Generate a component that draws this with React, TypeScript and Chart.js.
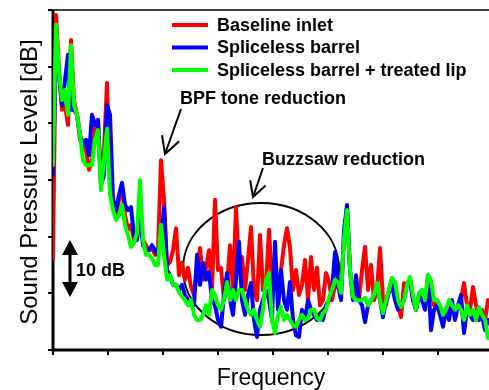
import { useEffect, useRef } from "react";
import { Chart, registerables } from "chart.js";

Chart.register(...registerables);

// Frequency bins (uniform spectral bins, arbitrary units)
const FREQ_BINS: number[] = Array.from({ length: 146 }, (_, i) => i);
const X_MAX = 145.33;
const X_TICKS = [0, 18.33, 36.67, 55, 73.33, 91.67, 110, 128.33];
const Y_TICKS = [0, 10, 20, 30, 40, 50, 60];

const SERIES_LABELS = ["Baseline inlet", "Spliceless barrel", "Spliceless barrel + treated lip"];
const SERIES_COLORS = ["#ff0000", "#0000ff", "#00ff00"];

// Relative SPL [dB]
const BASELINE = [
  16.2, 59.1, 49.4, 42.4, 43.2, 39.7, 54.7, 44.1, 41.5, 37.1,
  36.2, 35.3, 31.8, 33.5, 39.7, 40.6, 29.1, 35.3, 47.1, 30.0,
  25.6, 23.8, 26.5, 28.8, 23.8, 21.2, 22.1, 19.4, 20.3, 22.9,
  19.4, 18.5, 17.6, 18.0, 16.8, 17.6, 33.5, 26.5, 15.0, 15.5,
  17.6, 21.5, 13.2, 15.4, 12.4, 14.5, 11.1, 9.7, 14.1, 18.0,
  12.4, 14.5, 17.6, 10.6, 26.5, 14.1, 14.5, 8.8, 11.5, 18.5,
  10.6, 25.2, 14.1, 16.4, 10.6, 15.9, 21.7, 10.6, 8.8, 20.3,
  10.6, 11.5, 21.2, 11.5, 14.1, 10.6, 14.1, 18.5, 21.5, 18.0,
  10.6, 14.1, 9.7, 11.5, 15.9, 8.8, 16.4, 10.6, 14.5, 7.9,
  8.8, 13.6, 12.0, 8.8, 11.5, 12.4, 10.6, 19.4, 25.1, 14.1,
  9.4, 10.6, 8.8, 14.1, 18.2, 10.6, 15.0, 8.8, 10.6, 18.0,
  8.8, 7.9, 10.6, 12.7, 11.5, 7.9, 5.8, 11.8, 11.5, 12.4,
  8.8, 7.1, 9.7, 10.6, 8.8, 12.4, 10.6, 7.9, 8.8, 7.1,
  5.3, 6.2, 7.9, 7.1, 6.2, 7.9, 8.8, 11.8, 7.9, 7.1,
  11.1, 7.9, 5.8, 7.1, 5.3, 8.8,
];

const SPLICELESS = [
  30.9, 55.6, 48.5, 43.2, 47.6, 52.1, 42.4, 42.4, 41.5, 38.0,
  36.2, 37.1, 34.4, 41.5, 39.7, 40.6, 29.1, 30.9, 43.2, 41.5,
  26.5, 24.7, 27.4, 29.5, 25.6, 24.7, 25.2, 20.3, 19.4, 23.8,
  18.5, 17.6, 17.6, 18.5, 17.6, 16.8, 19.4, 25.2, 14.1, 13.2,
  11.5, 11.5, 10.6, 11.5, 9.7, 8.8, 7.9, 7.9, 16.8, 11.5,
  15.4, 12.4, 13.8, 8.8, 7.9, 5.3, 4.1, 9.7, 13.6, 8.8,
  6.2, 12.4, 19.1, 8.8, 6.2, 9.7, 11.8, 5.3, 2.3, 7.1,
  8.8, 10.6, 8.8, 5.3, 19.1, 7.1, 14.1, 8.8, 7.1, 12.0,
  5.3, 2.6, 2.3, 7.1, 5.3, 8.8, 7.1, 6.2, 5.3, 6.2,
  5.3, 7.9, 8.8, 10.6, 17.3, 11.5, 8.8, 21.2, 25.6, 14.1,
  8.8, 13.2, 8.8, 7.9, 4.9, 7.9, 8.8, 9.7, 11.5, 8.8,
  5.8, 8.8, 10.2, 11.5, 8.8, 7.1, 7.9, 8.8, 11.5, 12.4,
  8.8, 7.1, 9.7, 8.8, 7.1, 13.2, 3.5, 7.1, 7.9, 6.2,
  4.1, 7.1, 5.3, 8.8, 5.3, 7.9, 9.7, 3.0, 7.1, 6.2,
  5.3, 6.2, 5.3, 6.2, 3.5, 5.3,
];

const TREATED_LIP = [
  32.6, 57.4, 49.1, 44.1, 45.9, 41.5, 53.8, 43.2, 41.5, 38.0,
  33.5, 32.6, 32.6, 32.6, 37.1, 38.8, 28.2, 33.5, 39.1, 27.4,
  24.7, 22.9, 23.8, 25.6, 22.1, 20.3, 18.2, 18.9, 20.6, 30.0,
  19.4, 16.8, 16.8, 16.2, 15.0, 15.0, 22.1, 16.8, 12.4, 13.2,
  11.5, 11.5, 10.2, 9.4, 8.8, 7.9, 8.8, 6.2, 5.3, 5.3,
  6.2, 7.9, 6.2, 10.6, 9.7, 7.9, 7.1, 8.8, 12.0, 8.8,
  10.6, 8.8, 10.6, 10.6, 8.8, 7.1, 6.2, 7.1, 5.3, 4.1,
  7.1, 12.4, 13.6, 5.3, 3.0, 6.2, 7.6, 5.3, 6.2, 5.3,
  4.4, 4.1, 5.3, 6.2, 5.3, 5.6, 7.1, 7.1, 5.6, 5.3,
  6.5, 7.1, 9.2, 10.6, 12.4, 12.0, 10.1, 19.4, 24.7, 14.1,
  9.4, 8.8, 8.8, 8.8, 9.2, 7.9, 8.8, 9.7, 11.8, 8.8,
  6.5, 8.8, 10.6, 12.7, 12.0, 8.8, 7.6, 8.8, 11.5, 12.9,
  9.7, 7.1, 10.1, 10.6, 8.8, 13.2, 12.4, 8.8, 8.8, 7.9,
  6.2, 7.1, 8.8, 7.9, 7.1, 7.9, 7.1, 5.3, 7.9, 6.2,
  7.1, 5.3, 7.6, 6.2, 5.3, 2.1,
];

const FONT = "'Liberation Sans', Arial, sans-serif";

function arrowV(ctx: CanvasRenderingContext2D, x0: number, y0: number, x1: number, y1: number, len: number) {
  ctx.beginPath();
  ctx.moveTo(x0, y0);
  ctx.lineTo(x1, y1);
  ctx.stroke();
  const ang = Math.atan2(y1 - y0, x1 - x0);
  const spread = 0.5;
  ctx.beginPath();
  ctx.moveTo(x1 - len * Math.cos(ang - spread), y1 - len * Math.sin(ang - spread));
  ctx.lineTo(x1, y1);
  ctx.lineTo(x1 - len * Math.cos(ang + spread), y1 - len * Math.sin(ang + spread));
  ctx.stroke();
}

const decorPlugin = {
  id: "decor",
  beforeDatasetsDraw(chart: any) {
    const { ctx, chartArea: a, scales } = chart;
    const xs = scales.x;
    const ys = scales.y;
    ctx.save();
    // ellipse
    ctx.strokeStyle = "#000";
    ctx.lineWidth = 2;
    ctx.beginPath();
    ctx.ellipse(261, 269, 78, 66, 0, 0, Math.PI * 2);
    ctx.stroke();
    // top border
    ctx.lineWidth = 1.5;
    ctx.beginPath();
    ctx.moveTo(a.left, a.top);
    ctx.lineTo(a.right, a.top);
    ctx.stroke();
    // axes
    ctx.lineWidth = 3;
    ctx.beginPath();
    ctx.moveTo(a.left, a.top);
    ctx.lineTo(a.left, a.bottom + 1.5);
    ctx.moveTo(a.left - 1.5, a.bottom);
    ctx.lineTo(a.right, a.bottom);
    ctx.stroke();
    // ticks
    ctx.lineWidth = 2;
    ctx.beginPath();
    for (const v of Y_TICKS) {
      const py = Math.round(ys.getPixelForValue(v));
      ctx.moveTo(a.left - 5, py);
      ctx.lineTo(a.left, py);
    }
    for (const v of X_TICKS) {
      const px = Math.round(xs.getPixelForValue(v));
      ctx.moveTo(px, a.bottom);
      ctx.lineTo(px, a.bottom + 5);
    }
    ctx.stroke();
    ctx.restore();
  },
  afterDraw(chart: any) {
    const { ctx, chartArea: a } = chart;
    ctx.save();
    ctx.fillStyle = "#000";
    ctx.strokeStyle = "#000";
    // axis titles
    ctx.font = `23px ${FONT}`;
    ctx.textAlign = "center";
    ctx.textBaseline = "alphabetic";
    ctx.fillText("Frequency", (a.left + a.right) / 2, 385);
    ctx.save();
    ctx.translate(37, (a.top + a.bottom) / 2 + 2);
    ctx.rotate(-Math.PI / 2);
    ctx.font = `24px ${FONT}`;
    ctx.fillText("Sound Pressure Level [dB]", 0, 0);
    ctx.restore();

    // legend
    ctx.font = `bold 18px ${FONT}`;
    ctx.textAlign = "left";
    ctx.textBaseline = "middle";
    const rows = [25, 47.5, 70];
    SERIES_LABELS.forEach((lab, i) => {
      ctx.strokeStyle = SERIES_COLORS[i];
      ctx.lineWidth = 4;
      ctx.beginPath();
      ctx.moveTo(172, rows[i]);
      ctx.lineTo(208, rows[i]);
      ctx.stroke();
      ctx.fillText(lab, 217, rows[i] + 1);
    });

    // annotations
    ctx.fillText("BPF tone reduction", 180, 99);
    ctx.fillText("Buzzsaw reduction", 262, 160);
    ctx.fillText("10 dB", 76, 271);

    ctx.strokeStyle = "#000";
    ctx.lineWidth = 2;
    arrowV(ctx, 181, 109, 165, 154, 19);
    arrowV(ctx, 263, 168, 253, 197, 17);

    // 10 dB double arrow
    ctx.lineWidth = 3;
    ctx.beginPath();
    ctx.moveTo(70, 252);
    ctx.lineTo(70, 286);
    ctx.stroke();
    ctx.beginPath();
    ctx.moveTo(70, 240);
    ctx.lineTo(78, 255);
    ctx.lineTo(62, 255);
    ctx.closePath();
    ctx.fill();
    ctx.beginPath();
    ctx.moveTo(70, 297);
    ctx.lineTo(78, 282);
    ctx.lineTo(62, 282);
    ctx.closePath();
    ctx.fill();
    ctx.restore();
  },
};

export default function App() {
  const ref = useRef<HTMLCanvasElement | null>(null);
  useEffect(() => {
    if (!ref.current) return;
    const series = [BASELINE, SPLICELESS, TREATED_LIP];
    const chart = new Chart(ref.current, {
      type: "line",
      data: {
        labels: FREQ_BINS,
        datasets: series.map((d, i) => ({
          label: SERIES_LABELS[i],
          data: d,
          borderColor: SERIES_COLORS[i],
          backgroundColor: SERIES_COLORS[i],
          borderWidth: 4,
          pointRadius: 0,
          tension: 0,
          borderJoinStyle: "round" as const,
          borderCapStyle: "round" as const,
          fill: false,
          order: 2 - i,
        })),
      },
      options: {
        responsive: false,
        animation: false,
        devicePixelRatio: 1,
        layout: { padding: { top: 10, left: 0, right: 0, bottom: 0 } },
        plugins: { legend: { display: false }, tooltip: { enabled: false } },
        scales: {
          x: {
            type: "linear",
            min: 0,
            max: X_MAX,
            grid: { display: false },
            border: { display: false },
            ticks: { display: false },
            afterFit: (s: any) => {
              s.height = 40;
            },
          },
          y: {
            min: 0,
            max: 60,
            grid: { display: false },
            border: { display: false },
            ticks: { display: false },
            afterFit: (s: any) => {
              s.width = 53;
            },
          },
        },
      },
      plugins: [decorPlugin],
    });
    return () => chart.destroy();
  }, []);
  return (
    <div style={{ position: "absolute", left: 0, top: 0, width: 489, height: 390, background: "#fff" }}>
      <canvas ref={ref} width={489} height={390} />
    </div>
  );
}
